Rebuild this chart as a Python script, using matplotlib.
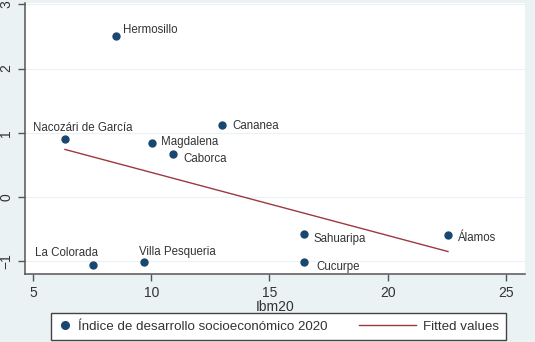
import numpy as np
import matplotlib.pyplot as plt
from matplotlib.lines import Line2D
from matplotlib.legend_handler import HandlerLine2D

plt.rcParams['font.family'] = ['Liberation Sans', 'DejaVu Sans']

# data
municipios = ['Hermosillo', 'Nacozári de García', 'Magdalena', 'Cananea', 'Caborca',
              'Sahuaripa', 'Álamos', 'Cucurpe', 'La Colorada', 'Villa Pesqueria']
ibm20 = [8.5, 6.35, 10.05, 13.0, 10.9, 16.45, 22.55, 16.45, 7.55, 9.7]
indice = [2.51, 0.90, 0.84, 1.12, 0.67, -0.57, -0.60, -1.01, -1.06, -1.01]

# fitted line end points
fit_x = [6.35, 22.55]
fit_y = [0.74, -0.85]

# label offsets (points) for each municipio
offsets = {
    'Hermosillo': (5, 4),
    'Nacozári de García': (-23, 8),
    'Magdalena': (6, 1),
    'Caborca': (8, -4),
    'Cananea': (7, -1),
    'Sahuaripa': (7, -4),
    'Álamos': (7, -2),
    'Cucurpe': (9, -4),
    'La Colorada': (-42, 9),
    'Villa Pesqueria': (-4, 7),
}

bg = '#eaf2f3'
navy = '#1a476f'
maroon = '#9a3a40'
txt = '#333333'

fig = plt.figure(figsize=(5.35, 3.42), dpi=100, facecolor=bg)
ax = fig.add_axes([0.0467, 0.1988, 0.9343, 0.7924])
ax.set_facecolor('white')

ax.scatter(ibm20, indice, s=25, color=navy, zorder=3)
ax.plot(fit_x, fit_y, color=maroon, lw=1.0, zorder=2)

for name, x, y in zip(municipios, ibm20, indice):
    dx, dy = offsets[name]
    ax.annotate(name, (x, y), xytext=(dx, dy), textcoords='offset points',
                fontsize=8.3, color=txt, ha='left', va='center')

ax.set_xlim(4.66, 25.8)
ax.set_ylim(-1.2, 3.02)
ax.set_xticks([5, 10, 15, 20, 25])
ax.set_yticks([-1, 0, 1, 2, 3])
ax.grid(axis='y', color=bg, lw=0.8)
ax.set_axisbelow(True)

for s in ['top', 'right']:
    ax.spines[s].set_visible(False)
for s in ['left', 'bottom']:
    ax.spines[s].set_color('#555555')
    ax.spines[s].set_linewidth(1.1)

ax.tick_params(colors='#555555', labelcolor=txt, labelsize=10, length=5, width=1)
plt.setp(ax.get_yticklabels(), rotation=90, va='center')
ax.set_xlabel('Ibm20', fontsize=10, color=txt, labelpad=0)


class WideLine(HandlerLine2D):
    def create_artists(self, legend, orig_handle, xdescent, ydescent, width, height, fontsize, trans):
        extra = 3.3 * width
        return super().create_artists(legend, orig_handle, xdescent + extra, ydescent,
                                      width + extra, height, fontsize, trans)


h_dot = Line2D([], [], ls='none', marker='o', ms=5.5, color=navy)
h_line = Line2D([], [], color=maroon, lw=1.0)
leg = fig.legend([h_dot, h_line], ['Índice de desarrollo socioeconómico 2020', 'Fitted values'],
                 loc='center', bbox_to_anchor=(0.5206, 0.0453), ncol=2, fontsize=9.6,
                 handlelength=1.0, handletextpad=0.5, columnspacing=5.6,
                 borderpad=0.55, borderaxespad=0, fancybox=False, framealpha=1,
                 edgecolor='#444444', handler_map={h_line: WideLine()})
leg.get_frame().set_linewidth(1.0)
for t in leg.get_texts():
    t.set_color(txt)

fig.savefig('out.png', dpi=100, facecolor=bg)
